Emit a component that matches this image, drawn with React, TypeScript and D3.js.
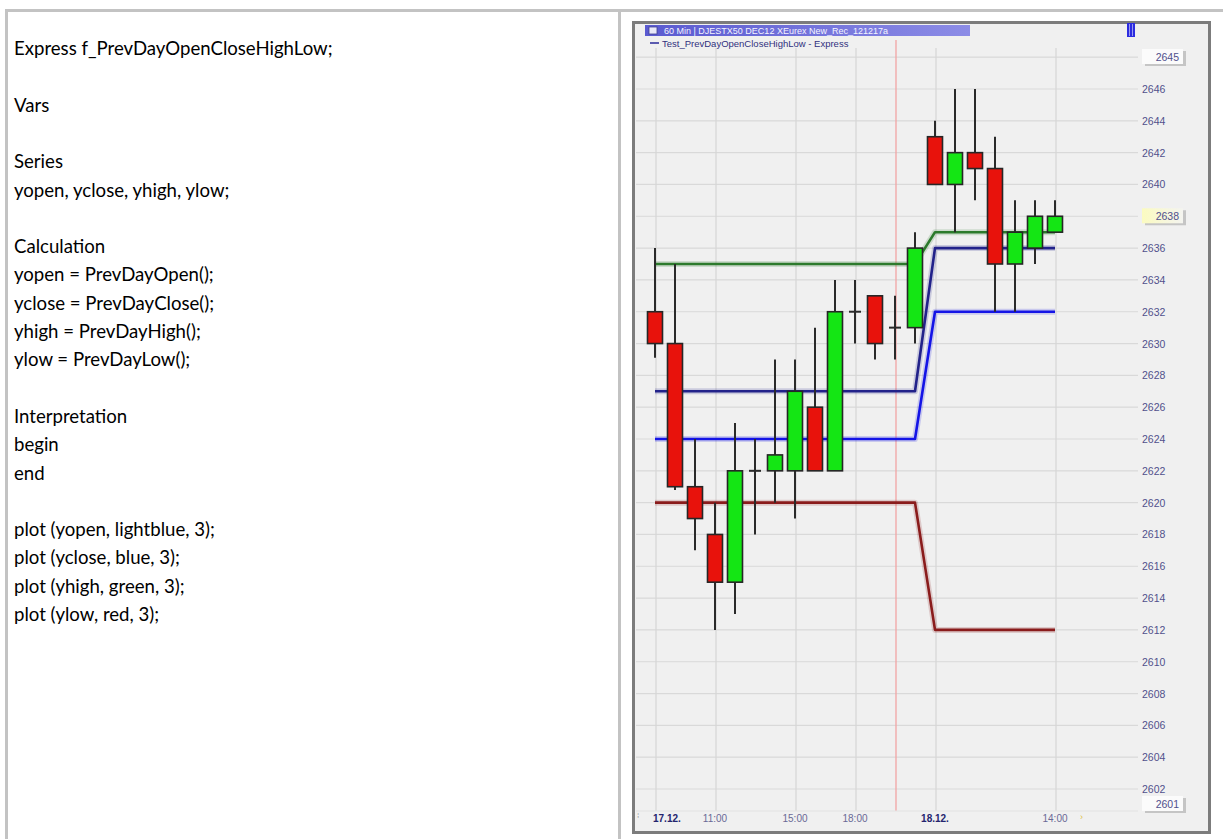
import React from "react";
import * as d3 from "d3";

// ---- data ----
const barTimes = [
  "17.12. 08:00", "17.12. 09:00", "17.12. 10:00", "17.12. 11:00", "17.12. 12:00", "17.12. 13:00", "17.12. 14:00",
  "17.12. 15:00", "17.12. 16:00", "17.12. 17:00", "17.12. 18:00", "17.12. 19:00", "17.12. 20:00", "17.12. 21:00",
  "18.12. 08:00", "18.12. 09:00", "18.12. 10:00", "18.12. 11:00", "18.12. 12:00", "18.12. 13:00", "18.12. 14:00",
];
const opens = [2632, 2630, 2621, 2618, 2615, 2622, 2622, 2622, 2626, 2622, 2632, 2633, 2631, 2631, 2643, 2640, 2642, 2641, 2635, 2636, 2637];
const highs = [2636, 2635, 2624, 2620, 2625, 2624, 2629, 2629, 2631, 2634, 2634, 2633, 2633, 2637, 2644, 2646, 2646, 2643, 2639, 2639, 2639];
const lows = [2629.1, 2620.8, 2617, 2612, 2613, 2618, 2620, 2619, 2622, 2622, 2630, 2629, 2629, 2630, 2640, 2637, 2639, 2632, 2632, 2635, 2637];
const closes = [2630, 2621, 2619, 2615, 2622, 2622, 2623, 2627, 2622, 2632, 2632, 2630, 2631, 2636, 2640, 2642, 2641, 2635, 2637, 2638, 2638];

const yOpen = [2624, 2624, 2624, 2624, 2624, 2624, 2624, 2624, 2624, 2624, 2624, 2624, 2624, 2624, 2632, 2632, 2632, 2632, 2632, 2632, 2632];
const yClose = [2627, 2627, 2627, 2627, 2627, 2627, 2627, 2627, 2627, 2627, 2627, 2627, 2627, 2627, 2636, 2636, 2636, 2636, 2636, 2636, 2636];
const yHigh = [2635, 2635, 2635, 2635, 2635, 2635, 2635, 2635, 2635, 2635, 2635, 2635, 2635, 2635, 2637, 2637, 2637, 2637, 2637, 2637, 2637];
const yLow = [2620, 2620, 2620, 2620, 2620, 2620, 2620, 2620, 2620, 2620, 2620, 2620, 2620, 2620, 2612, 2612, 2612, 2612, 2612, 2612, 2612];

const xTickIdx = [0, 3, 7, 10, 14, 20];
const xTickLabels = ["17.12.", "11:00", "15:00", "18:00", "18.12.", "14:00"];
const xTickBold = [true, false, false, false, true, false];
const yTicks = d3.range(2602, 2647, 2);
const yBoxLabels = [2645, 2638, 2601];
const sessionMarkIdx = 12;

const codeLines = [
  "Express f_PrevDayOpenCloseHighLow;",
  "",
  "Vars",
  "",
  "Series",
  "yopen, yclose, yhigh, ylow;",
  "",
  "Calculation",
  "yopen = PrevDayOpen();",
  "yclose = PrevDayClose();",
  "yhigh = PrevDayHigh();",
  "ylow = PrevDayLow();",
  "",
  "Interpretation",
  "begin",
  "end",
  "",
  "plot (yopen, lightblue, 3);",
  "plot (yclose, blue, 3);",
  "plot (yhigh, green, 3);",
  "plot (ylow, red, 3);",
];

export default function App() {
  const x = d3.scaleLinear().domain([0, barTimes.length - 1]).range([655, 1055]);
  const y = d3.scaleLinear().domain([2602, 2646]).range([789, 89]);
  const idx = d3.range(barTimes.length);
  const line = d3
    .line<number>()
    .x((_, i) => x(i))
    .y((v) => y(v));

  const series = [
    { vals: yLow, color: "#8a1c1c" },
    { vals: yOpen, color: "#1414e6" },
    { vals: yClose, color: "#22228a" },
    { vals: yHigh, color: "#2c7a2c" },
  ];

  const bodyW = 15;
  const plotLeft = 636;
  const plotRight = 1138;

  return (
    <svg
      width={1223}
      height={839}
      style={{ position: "absolute", left: 0, top: 0, background: "#ffffff" }}
      xmlns="http://www.w3.org/2000/svg"
    >
      <defs>
        <linearGradient id="hdr" x1="0" x2="1" y1="0" y2="0">
          <stop offset="0" stopColor="#5a5ad0" />
          <stop offset="1" stopColor="#8c8ce6" />
        </linearGradient>
        <linearGradient id="ylw" x1="0" x2="1" y1="0" y2="0">
          <stop offset="0" stopColor="#fbfbc0" />
          <stop offset="1" stopColor="#f4f4f0" />
        </linearGradient>
      </defs>

      {/* table borders */}
      <rect x={5} y={9} width={1218} height={3} fill="#c3c3c3" />
      <rect x={5} y={9} width={3} height={830} fill="#c3c3c3" />
      <rect x={618} y={9} width={3} height={830} fill="#c3c3c3" />

      {/* code text */}
      <g fontFamily="Lato, 'Open Sans', sans-serif" fontSize={18.6} fill="#000">
        {codeLines.map((t, i) =>
          t ? (
            <text key={i} x={14} y={55 + i * 28.3}>
              {t}
            </text>
          ) : null
        )}
      </g>

      {/* chart window */}
      <rect x={633.5} y={22.5} width={576} height={810} fill="#f0f0f0" stroke="#7c7c7c" strokeWidth={3} />

      {/* horizontal grid */}
      {[2648, ...yTicks].map((v) => (
        <line key={"h" + v} x1={plotLeft} x2={plotRight} y1={y(v)} y2={y(v)} stroke="#d9d9d9" strokeWidth={1.2} />
      ))}
      {/* vertical grid */}
      {xTickIdx.map((i) => (
        <line key={"v" + i} x1={x(i) + 1} x2={x(i) + 1} y1={48} y2={811} stroke="#d6d6d6" strokeWidth={1.2} />
      ))}
      {/* session marker */}
      <line x1={x(sessionMarkIdx) + 1} x2={x(sessionMarkIdx) + 1} y1={40} y2={811} stroke="#f2a4a4" strokeWidth={1.3} />
      <line x1={plotLeft} x2={plotRight} y1={811} y2={811} stroke="#e2e2e2" strokeWidth={1} />

      {/* indicator lines */}
      {series.map((s, k) => (
        <g key={"s" + k}>
          <path d={line(s.vals) || ""} fill="none" stroke={s.color} strokeOpacity={0.18} strokeWidth={6} strokeLinejoin="round" />
          <path d={line(s.vals) || ""} fill="none" stroke={s.color} strokeWidth={2.6} strokeLinejoin="round" />
        </g>
      ))}

      {/* candles */}
      {idx.map((i) => {
        const o = opens[i];
        const c = closes[i];
        const cx = x(i);
        const top = y(Math.max(o, c));
        const bot = y(Math.min(o, c));
        const doji = o === c;
        return (
          <g key={"c" + i}>
            <line x1={cx} x2={cx} y1={y(highs[i])} y2={y(lows[i])} stroke="#2a2a2a" strokeWidth={2} />
            {doji ? (
              <line x1={cx - 6} x2={cx + 6} y1={top} y2={top} stroke="#2a2a2a" strokeWidth={2} />
            ) : (
              <rect
                x={cx - bodyW / 2}
                y={top}
                width={bodyW}
                height={bot - top}
                fill={c > o ? "#14e614" : "#e8120c"}
                stroke="#262626"
                strokeWidth={1.6}
              />
            )}
          </g>
        );
      })}

      {/* y axis labels */}
      <g fontFamily="'Liberation Sans', Arial, sans-serif" fontSize={10.5} fill="#50508c">
        {yTicks
          .filter((v) => yBoxLabels.indexOf(v) < 0)
          .map((v) => (
            <text key={"yl" + v} x={1142} y={y(v) + 4}>
              {v}
            </text>
          ))}
      </g>
      {yBoxLabels.map((v, k) => {
        const cy = k === 0 ? 57 : k === 2 ? 804 : y(v);
        return (
          <g key={"bx" + v}>
            <rect x={1145} y={cy - 6} width={41} height={15} fill="#a8a8a8" opacity={0.6} />
            <rect x={1142} y={cy - 8} width={41} height={15} fill={k === 1 ? "url(#ylw)" : "#fbfbfb"} />
            <text x={1179} y={cy + 3.5} textAnchor="end" fontFamily="'Liberation Sans', Arial, sans-serif" fontSize={10.5} fill="#50508c">
              {v}
            </text>
          </g>
        );
      })}

      {/* x axis labels */}
      <g fontFamily="'Liberation Sans', Arial, sans-serif" fontSize={10}>
        {xTickIdx.map((i, k) => (
          <text
            key={"xl" + i}
            x={k === 0 ? x(i) - 2 : x(i)}
            y={822}
            textAnchor={k === 0 ? "start" : "middle"}
            fontWeight={xTickBold[k] ? "bold" : "normal"}
            fill={xTickBold[k] ? "#24246e" : "#6a6a96"}
          >
            {xTickLabels[k]}
          </text>
        ))}
      </g>
      <text x={1080} y={820} fontSize={9} fill="#e0c040" fontFamily="'Liberation Sans', Arial, sans-serif">›</text>
      <text x={637} y={818} fontSize={8} fill="#9a9a9a" fontFamily="'Liberation Sans', Arial, sans-serif">⁞</text>

      {/* header */}
      <rect x={645} y={25} width={325} height={11} fill="url(#hdr)" />
      <rect x={649} y={27} width={8} height={7} fill="#e8e8f8" stroke="#404090" strokeWidth={0.8} />
      <text x={664} y={34} fontFamily="'Liberation Sans', Arial, sans-serif" fontSize={9} fill="#f4f4ff">
        60 Min | DJESTX50 DEC12   XEurex New_Rec_121217a
      </text>
      <line x1={650} x2={659} y1={43} y2={43} stroke="#2a2a9a" strokeWidth={1.5} />
      <text x={662} y={46.5} fontFamily="'Liberation Sans', Arial, sans-serif" fontSize={9.5} fill="#30307e">
        Test_PrevDayOpenCloseHighLow - Express
      </text>
      <rect x={1127} y={23} width={8} height={14} fill="#2c2ce0" />
      <line x1={1129.5} x2={1129.5} y1={24} y2={36} stroke="#9a9af0" strokeWidth={1} />
      <line x1={1132.5} x2={1132.5} y1={24} y2={36} stroke="#9a9af0" strokeWidth={1} />
    </svg>
  );
}
